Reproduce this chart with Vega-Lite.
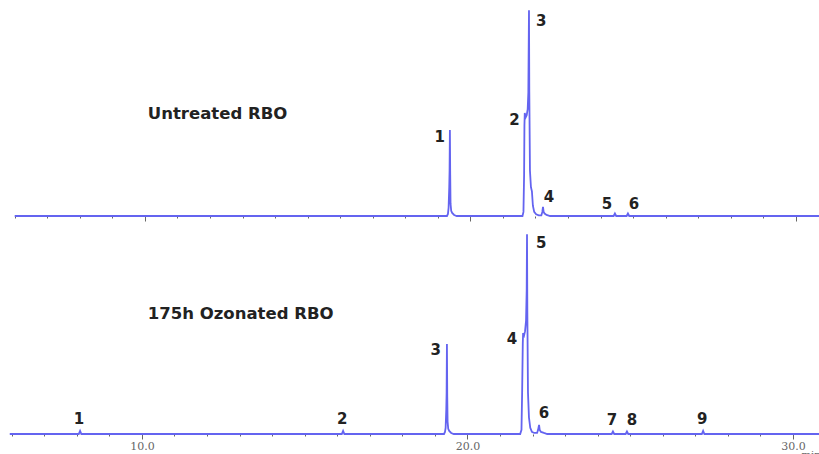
{
  "$schema": "https://vega.github.io/schema/vega-lite/v6.json",
  "background": "white",
  "padding": 0,
  "spacing": 0,
  "config": {
    "view": {"stroke": null},
    "text": {"font": "DejaVu Sans", "fontWeight": "bold", "color": "#222"}
  },
  "datasets": {
    "untreated": [
      {"t": 6.0, "signal": 0},
      {"t": 19.28, "signal": 0}, {"t": 19.31, "signal": 1}, {"t": 19.33, "signal": 4}, {"t": 19.35, "signal": 14},
      {"t": 19.36, "signal": 22}, {"t": 19.37, "signal": 41.8}, {"t": 19.38, "signal": 20}, {"t": 19.39, "signal": 6},
      {"t": 19.41, "signal": 2.5}, {"t": 19.44, "signal": 1.5}, {"t": 19.5, "signal": 0.5}, {"t": 19.58, "signal": 0},
      {"t": 21.6, "signal": 0}, {"t": 21.63, "signal": 2}, {"t": 21.65, "signal": 20}, {"t": 21.66, "signal": 44},
      {"t": 21.67, "signal": 50.1}, {"t": 21.7, "signal": 48}, {"t": 21.73, "signal": 49}, {"t": 21.76, "signal": 52},
      {"t": 21.78, "signal": 60}, {"t": 21.8, "signal": 100}, {"t": 21.81, "signal": 60}, {"t": 21.83, "signal": 22},
      {"t": 21.86, "signal": 14}, {"t": 21.89, "signal": 12}, {"t": 21.92, "signal": 5}, {"t": 21.96, "signal": 2},
      {"t": 22.02, "signal": 0.8}, {"t": 22.1, "signal": 0.3},
      {"t": 22.18, "signal": 0.3}, {"t": 22.21, "signal": 2}, {"t": 22.23, "signal": 4.4}, {"t": 22.25, "signal": 2},
      {"t": 22.28, "signal": 1.2}, {"t": 22.34, "signal": 0.5}, {"t": 22.45, "signal": 0},
      {"t": 24.4, "signal": 0}, {"t": 24.44, "signal": 1.2}, {"t": 24.48, "signal": 0},
      {"t": 24.8, "signal": 0}, {"t": 24.84, "signal": 1.2}, {"t": 24.88, "signal": 0},
      {"t": 30.71, "signal": 0}
    ],
    "ozonated": [
      {"t": 5.94, "signal": 0},
      {"t": 8.06, "signal": 0}, {"t": 8.1, "signal": 1.5}, {"t": 8.14, "signal": 0},
      {"t": 16.14, "signal": 0}, {"t": 16.18, "signal": 1.5}, {"t": 16.22, "signal": 0},
      {"t": 19.28, "signal": 0}, {"t": 19.31, "signal": 1}, {"t": 19.33, "signal": 3}, {"t": 19.35, "signal": 12},
      {"t": 19.36, "signal": 20}, {"t": 19.37, "signal": 43.8}, {"t": 19.38, "signal": 18}, {"t": 19.39, "signal": 6},
      {"t": 19.41, "signal": 2.5}, {"t": 19.44, "signal": 1.5}, {"t": 19.5, "signal": 0.5}, {"t": 19.58, "signal": 0},
      {"t": 21.62, "signal": 0}, {"t": 21.66, "signal": 2}, {"t": 21.68, "signal": 20}, {"t": 21.7, "signal": 44},
      {"t": 21.71, "signal": 49.1}, {"t": 21.74, "signal": 48}, {"t": 21.77, "signal": 50}, {"t": 21.8, "signal": 55},
      {"t": 21.82, "signal": 70}, {"t": 21.83, "signal": 97.2}, {"t": 21.84, "signal": 60}, {"t": 21.86, "signal": 20},
      {"t": 21.89, "signal": 8}, {"t": 21.93, "signal": 3}, {"t": 21.98, "signal": 1}, {"t": 22.05, "signal": 0.5},
      {"t": 22.14, "signal": 0.5}, {"t": 22.17, "signal": 2}, {"t": 22.2, "signal": 4.4}, {"t": 22.22, "signal": 2},
      {"t": 22.26, "signal": 1}, {"t": 22.35, "signal": 0.5}, {"t": 22.45, "signal": 0},
      {"t": 24.43, "signal": 0}, {"t": 24.47, "signal": 1.2}, {"t": 24.51, "signal": 0},
      {"t": 24.86, "signal": 0}, {"t": 24.9, "signal": 1.2}, {"t": 24.94, "signal": 0},
      {"t": 27.2, "signal": 0}, {"t": 27.24, "signal": 1.5}, {"t": 27.28, "signal": 0},
      {"t": 30.8, "signal": 0}
    ],
    "peaksUntreated": [
      {"peak": "1", "rt": 19.37, "height": 41.8, "side": "left"},
      {"peak": "2", "rt": 21.67, "height": 50.1, "side": "left"},
      {"peak": "3", "rt": 21.8, "height": 100, "side": "right"},
      {"peak": "4", "rt": 22.23, "height": 4.4, "side": "aboveright"},
      {"peak": "5", "rt": 24.44, "height": 1.2, "side": "aboveleft"},
      {"peak": "6", "rt": 24.84, "height": 1.2, "side": "aboveright"}
    ],
    "peaksOzonated": [
      {"peak": "1", "rt": 8.1, "height": 1.5, "side": "above"},
      {"peak": "2", "rt": 16.18, "height": 1.5, "side": "above"},
      {"peak": "3", "rt": 19.37, "height": 43.8, "side": "left"},
      {"peak": "4", "rt": 21.71, "height": 49.1, "side": "left"},
      {"peak": "5", "rt": 21.83, "height": 97.2, "side": "right"},
      {"peak": "6", "rt": 22.2, "height": 4.4, "side": "aboveright"},
      {"peak": "7", "rt": 24.47, "height": 1.2, "side": "above"},
      {"peak": "8", "rt": 24.9, "height": 1.2, "side": "aboveright"},
      {"peak": "9", "rt": 27.24, "height": 1.5, "side": "above"}
    ],
    "samples": [
      {"run": "Untreated RBO", "t": 10.09, "signal": 49.6},
      {"run": "175h Ozonated RBO", "t": 10.18, "signal": 58.3}
    ]
  },
  "vconcat": [
    {
      "width": 819,
      "height": 216,
      "encoding": {
        "x": {
          "field": "t", "type": "quantitative",
          "scale": {"domain": [5.548, 30.71], "nice": false, "zero": false},
          "axis": {
            "values": [6, 7, 8, 9, 10, 11, 12, 13, 14, 15, 16, 17, 18, 19, 20, 21, 22, 23, 24, 25, 26, 27, 28, 29, 30],
            "labels": false, "domain": false, "grid": false, "title": null,
            "tickColor": "#666",
            "tickSize": {"condition": {"test": "datum.value % 10 === 0", "value": 5}, "value": 2}
          }
        },
        "y": {"field": "signal", "type": "quantitative", "scale": {"domain": [0, 105]}, "axis": null}
      },
      "layer": [
        {
          "data": {"name": "untreated"},
          "mark": {"type": "line", "color": "#6464f0", "strokeWidth": 1.8, "interpolate": "linear"}
        },
        {
          "data": {"name": "peaksUntreated"},
          "mark": {"type": "point", "shape": "cross", "size": 14, "filled": true, "color": "#333", "opacity": 0.8},
          "encoding": {"x": {"field": "rt", "type": "quantitative"}, "y": {"datum": 0}}
        },
        {
          "data": {"name": "peaksUntreated"},
          "transform": [{"filter": "datum.side === 'left'"}],
          "mark": {"type": "text", "align": "right", "baseline": "middle", "dx": -5, "dy": 7, "fontSize": 15},
          "encoding": {"x": {"field": "rt", "type": "quantitative"}, "y": {"field": "height", "type": "quantitative"}, "text": {"field": "peak"}}
        },
        {
          "data": {"name": "peaksUntreated"},
          "transform": [{"filter": "datum.side === 'right'"}],
          "mark": {"type": "text", "align": "left", "baseline": "middle", "dx": 7, "dy": 11, "fontSize": 15},
          "encoding": {"x": {"field": "rt", "type": "quantitative"}, "y": {"field": "height", "type": "quantitative"}, "text": {"field": "peak"}}
        },
        {
          "data": {"name": "peaksUntreated"},
          "transform": [{"filter": "datum.side === 'aboveright'"}],
          "mark": {"type": "text", "align": "center", "baseline": "middle", "dx": 6, "dy": -10, "fontSize": 15},
          "encoding": {"x": {"field": "rt", "type": "quantitative"}, "y": {"field": "height", "type": "quantitative"}, "text": {"field": "peak"}}
        },
        {
          "data": {"name": "peaksUntreated"},
          "transform": [{"filter": "datum.side === 'aboveleft'"}],
          "mark": {"type": "text", "align": "center", "baseline": "middle", "dx": -8, "dy": -10, "fontSize": 15},
          "encoding": {"x": {"field": "rt", "type": "quantitative"}, "y": {"field": "height", "type": "quantitative"}, "text": {"field": "peak"}}
        },
        {
          "data": {"name": "samples"},
          "transform": [{"filter": "datum.run === 'Untreated RBO'"}],
          "mark": {"type": "text", "align": "left", "baseline": "middle", "fontSize": 16.5},
          "encoding": {"text": {"field": "run"}}
        }
      ]
    },
    {
      "width": 819,
      "height": 212,
      "encoding": {
        "x": {
          "field": "t", "type": "quantitative",
          "scale": {"domain": [5.64, 30.8], "nice": false, "zero": false},
          "axis": {
            "values": [6, 7, 8, 9, 10, 11, 12, 13, 14, 15, 16, 17, 18, 19, 20, 21, 22, 23, 24, 25, 26, 27, 28, 29, 30],
            "labelExpr": "datum.value % 10 === 0 ? format(datum.value, '.1f') : ''",
            "labelOverlap": false, "labelFlush": false,
            "labelFont": "DejaVu Serif", "labelFontSize": 11, "labelColor": "#666", "labelPadding": 1,
            "domain": false, "grid": false,
            "tickColor": "#666",
            "tickSize": {"condition": {"test": "datum.value % 10 === 0", "value": 5}, "value": 2},
            "title": "min",
            "titleFont": "DejaVu Serif", "titleFontSize": 10, "titleFontWeight": "normal", "titleColor": "#666",
            "titleAnchor": "end", "titleAlign": "left", "titleBaseline": "top",
            "titleX": 801, "titleY": 15
          }
        },
        "y": {"field": "signal", "type": "quantitative", "scale": {"domain": [0, 103.1]}, "axis": null}
      },
      "layer": [
        {
          "data": {"name": "ozonated"},
          "mark": {"type": "line", "color": "#6464f0", "strokeWidth": 1.8, "interpolate": "linear"}
        },
        {
          "data": {"name": "peaksOzonated"},
          "mark": {"type": "point", "shape": "cross", "size": 14, "filled": true, "color": "#333", "opacity": 0.8},
          "encoding": {"x": {"field": "rt", "type": "quantitative"}, "y": {"datum": 0}}
        },
        {
          "data": {"name": "peaksOzonated"},
          "transform": [{"filter": "datum.side === 'left'"}],
          "mark": {"type": "text", "align": "right", "baseline": "middle", "dx": -6, "dy": 6, "fontSize": 15},
          "encoding": {"x": {"field": "rt", "type": "quantitative"}, "y": {"field": "height", "type": "quantitative"}, "text": {"field": "peak"}}
        },
        {
          "data": {"name": "peaksOzonated"},
          "transform": [{"filter": "datum.side === 'right'"}],
          "mark": {"type": "text", "align": "left", "baseline": "middle", "dx": 9, "dy": 9, "fontSize": 15},
          "encoding": {"x": {"field": "rt", "type": "quantitative"}, "y": {"field": "height", "type": "quantitative"}, "text": {"field": "peak"}}
        },
        {
          "data": {"name": "peaksOzonated"},
          "transform": [{"filter": "datum.side === 'above'"}],
          "mark": {"type": "text", "align": "center", "baseline": "middle", "dx": -1, "dy": -12, "fontSize": 15},
          "encoding": {"x": {"field": "rt", "type": "quantitative"}, "y": {"field": "height", "type": "quantitative"}, "text": {"field": "peak"}}
        },
        {
          "data": {"name": "peaksOzonated"},
          "transform": [{"filter": "datum.side === 'aboveright'"}],
          "mark": {"type": "text", "align": "center", "baseline": "middle", "dx": 5, "dy": -12, "fontSize": 15},
          "encoding": {"x": {"field": "rt", "type": "quantitative"}, "y": {"field": "height", "type": "quantitative"}, "text": {"field": "peak"}}
        },
        {
          "data": {"name": "samples"},
          "transform": [{"filter": "datum.run === '175h Ozonated RBO'"}],
          "mark": {"type": "text", "align": "left", "baseline": "middle", "fontSize": 16.5},
          "encoding": {"text": {"field": "run"}}
        }
      ]
    }
  ]
}
